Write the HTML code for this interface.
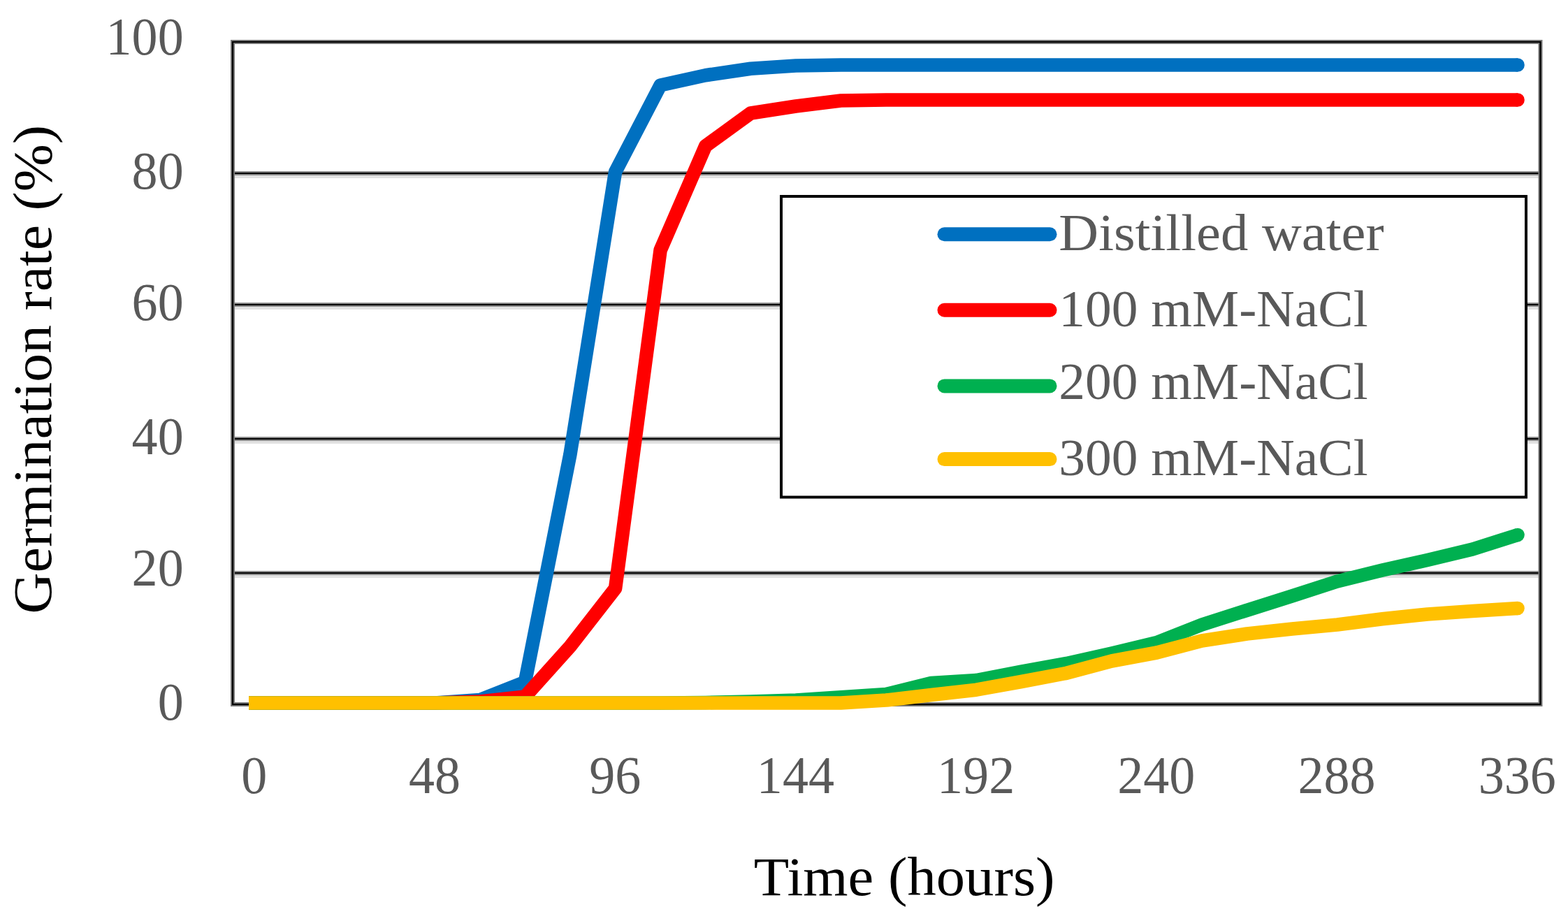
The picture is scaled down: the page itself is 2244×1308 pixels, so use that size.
<!DOCTYPE html>
<html><head><meta charset="utf-8"><title>Germination rate chart</title>
<style>
html,body{margin:0;padding:0;background:#fff;width:2244px;height:1308px;overflow:hidden}
svg{display:block}
text{font-family:"Liberation Serif","DejaVu Serif",serif}
.tk{font-size:76px;fill:#595959}
.lg{font-size:74px;fill:#595959}
.ti{font-size:79px;fill:#000}
</style></head><body>
<svg width="2244" height="1308" viewBox="0 0 2244 1308">
<rect width="2244" height="1308" fill="#fff"/>
<rect x="333" y="251" width="1871.5" height="4" fill="#e2e2e2"/>
<rect x="333" y="245" width="1871.5" height="6" fill="#8a8a8a"/>
<rect x="333" y="247" width="1871.5" height="2" fill="#000"/>
<rect x="333" y="439" width="1871.5" height="4" fill="#e2e2e2"/>
<rect x="333" y="433" width="1871.5" height="6" fill="#8a8a8a"/>
<rect x="333" y="435" width="1871.5" height="2" fill="#000"/>
<rect x="333" y="631" width="1871.5" height="4" fill="#e2e2e2"/>
<rect x="333" y="625" width="1871.5" height="6" fill="#8a8a8a"/>
<rect x="333" y="627" width="1871.5" height="2" fill="#000"/>
<rect x="333" y="823" width="1871.5" height="4" fill="#e2e2e2"/>
<rect x="333" y="817" width="1871.5" height="6" fill="#8a8a8a"/>
<rect x="333" y="819" width="1871.5" height="2" fill="#000"/>
<rect x="333" y="60" width="1871.5" height="948" fill="none" stroke="#7a7a7a" stroke-width="6"/>
<rect x="333" y="60" width="1871.5" height="948" fill="none" stroke="#000" stroke-width="2.2"/>
<text transform="translate(262.70 78.10) scale(0.9750 1)" text-anchor="end" class="tk">100</text>
<text transform="translate(262.70 270.20) scale(0.9750 1)" text-anchor="end" class="tk">80</text>
<text transform="translate(262.70 458.10) scale(0.9750 1)" text-anchor="end" class="tk">60</text>
<text transform="translate(262.70 650.20) scale(0.9750 1)" text-anchor="end" class="tk">40</text>
<text transform="translate(262.70 838.10) scale(0.9750 1)" text-anchor="end" class="tk">20</text>
<text transform="translate(262.70 1030.20) scale(0.9750 1)" text-anchor="end" class="tk">0</text>
<text transform="translate(363.80 1134.60) scale(0.9750 1)" text-anchor="middle" class="tk">0</text>
<text transform="translate(622.00 1134.60) scale(0.9750 1)" text-anchor="middle" class="tk">48</text>
<text transform="translate(880.20 1134.60) scale(0.9750 1)" text-anchor="middle" class="tk">96</text>
<text transform="translate(1138.40 1134.60) scale(0.9750 1)" text-anchor="middle" class="tk">144</text>
<text transform="translate(1396.60 1134.60) scale(0.9750 1)" text-anchor="middle" class="tk">192</text>
<text transform="translate(1654.80 1134.60) scale(0.9750 1)" text-anchor="middle" class="tk">240</text>
<text transform="translate(1913.00 1134.60) scale(0.9750 1)" text-anchor="middle" class="tk">288</text>
<text transform="translate(2171.20 1134.60) scale(0.9750 1)" text-anchor="middle" class="tk">336</text>
<polyline points="356,1006.0 364.0,1006.0 428.6,1006.0 493.1,1006.0 557.7,1006.0 622.3,1006.0 686.9,1001.5 751.4,976.0 816.0,650.0 880.6,246.0 945.1,122.0 1009.7,107.7 1074.3,98.3 1138.9,94.0 1203.4,93.0 1268.0,93.0 1332.6,93.0 1397.2,93.0 1461.7,93.0 1526.3,93.0 1590.9,93.0 1655.4,93.0 1720.0,93.0 1784.6,93.0 1849.2,93.0 1913.7,93.0 1978.3,93.0 2042.9,93.0 2107.4,93.0 2172.0,93.0" fill="none" stroke="#0070C0" stroke-width="19.6" stroke-linejoin="round" stroke-linecap="butt"/><circle cx="2172.0" cy="93.0" r="9.8" fill="#0070C0"/>
<polyline points="356,1006.0 364.0,1006.0 428.6,1006.0 493.1,1006.0 557.7,1006.0 622.3,1006.0 686.9,1004.0 751.4,997.0 816.0,925.0 880.6,842.0 945.1,358.0 1009.7,209.0 1074.3,162.0 1138.9,152.0 1203.4,144.0 1268.0,143.0 1332.6,143.0 1397.2,143.0 1461.7,143.0 1526.3,143.0 1590.9,143.0 1655.4,143.0 1720.0,143.0 1784.6,143.0 1849.2,143.0 1913.7,143.0 1978.3,143.0 2042.9,143.0 2107.4,143.0 2172.0,143.0" fill="none" stroke="#FF0000" stroke-width="19.6" stroke-linejoin="round" stroke-linecap="butt"/><circle cx="2172.0" cy="143.0" r="9.8" fill="#FF0000"/>
<polyline points="356,1006.0 364.0,1006.0 428.6,1006.0 493.1,1006.0 557.7,1006.0 622.3,1006.0 686.9,1006.0 751.4,1006.0 816.0,1006.0 880.6,1006.0 945.1,1006.0 1009.7,1005.5 1074.3,1004.0 1138.9,1002.0 1203.4,997.8 1268.0,993.5 1332.6,977.5 1397.2,973.5 1461.7,961.0 1526.3,949.5 1590.9,935.0 1655.4,919.5 1720.0,894.0 1784.6,873.3 1849.2,852.8 1913.7,832.0 1978.3,816.0 2042.9,801.5 2107.4,786.0 2172.0,765.5" fill="none" stroke="#00B050" stroke-width="19.6" stroke-linejoin="round" stroke-linecap="butt"/><circle cx="2172.0" cy="765.5" r="9.8" fill="#00B050"/>
<polyline points="356,1006.0 364.0,1006.0 428.6,1006.0 493.1,1006.0 557.7,1006.0 622.3,1006.0 686.9,1006.0 751.4,1006.0 816.0,1006.0 880.6,1006.0 945.1,1006.0 1009.7,1006.0 1074.3,1006.0 1138.9,1006.0 1203.4,1006.0 1268.0,1002.0 1332.6,994.4 1397.2,987.2 1461.7,975.5 1526.3,963.3 1590.9,946.0 1655.4,934.0 1720.0,917.0 1784.6,907.0 1849.2,900.0 1913.7,894.0 1978.3,885.8 2042.9,879.0 2107.4,874.5 2172.0,870.5" fill="none" stroke="#FFC000" stroke-width="19.6" stroke-linejoin="round" stroke-linecap="butt"/><circle cx="2172.0" cy="870.5" r="9.8" fill="#FFC000"/>
<rect x="1118" y="281" width="1066" height="430.5" fill="#fff" stroke="#000" stroke-width="4"/>
<line x1="1351.5" y1="335.3" x2="1502.5" y2="335.3" stroke="#0070C0" stroke-width="20" stroke-linecap="round"/>
<text transform="translate(1515.30 358.20) scale(1.0635 1)" class="lg">Distilled water</text>
<line x1="1351.5" y1="443.8" x2="1502.5" y2="443.8" stroke="#FF0000" stroke-width="20" stroke-linecap="round"/>
<text transform="translate(1515.30 467.00) scale(1.0200 1)" class="lg">100 mM-NaCl</text>
<line x1="1351.5" y1="552.4" x2="1502.5" y2="552.4" stroke="#00B050" stroke-width="20" stroke-linecap="round"/>
<text transform="translate(1515.30 571.10) scale(1.0200 1)" class="lg">200 mM-NaCl</text>
<line x1="1351.5" y1="657.1" x2="1502.5" y2="657.1" stroke="#FFC000" stroke-width="20" stroke-linecap="round"/>
<text transform="translate(1515.30 679.50) scale(1.0200 1)" class="lg">300 mM-NaCl</text>
<text transform="translate(1294.20 1281.40) scale(1.0460 1)" text-anchor="middle" class="ti">Time (hours)</text>
<text transform="translate(73.4 528.70) rotate(-90) scale(1.0356 1)" text-anchor="middle" class="ti">Germination rate (%)</text>
</svg>
</body></html>
